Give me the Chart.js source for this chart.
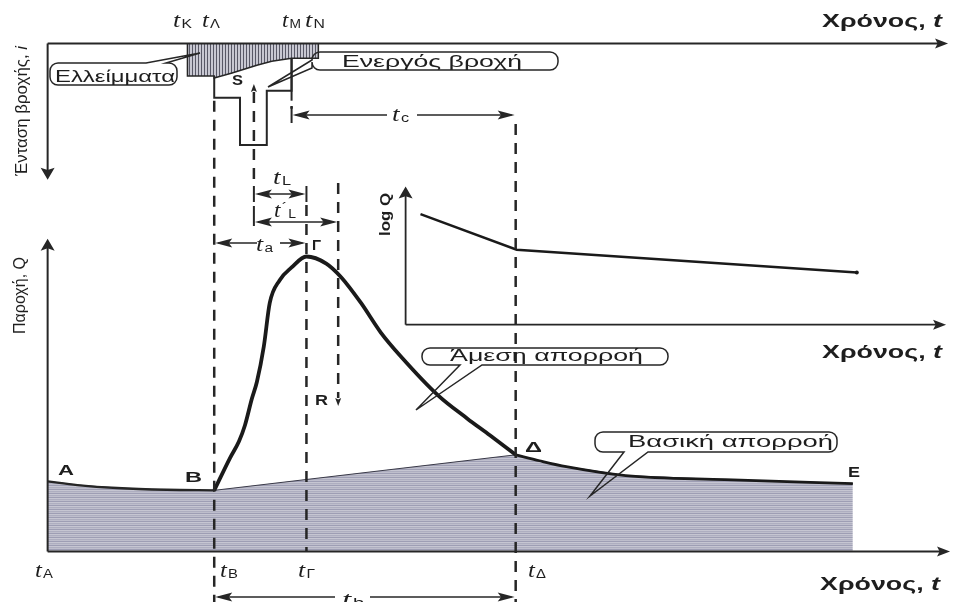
<!DOCTYPE html>
<html><head><meta charset="utf-8">
<script src="https://cdn.jsdelivr.net/npm/chart.js@4"></script>
<style>html,body{margin:0;padding:0;background:#fff}canvas{display:block}</style>
</head><body>
<canvas id="c" width="956" height="602"></canvas>
<script>
// Hydrograph of a storm event: time in hours, discharge Q in m3/s, rain intensity i in mm/h.

// characteristic times
const tA = 0, tK = 7.05, tLambda = 8.4, tB = 8.4, tS = 10.4, tM = 12.3, tG = 13.05,
      tN = 13.65, tR = 14.65, tD = 23.6, tE = 40.6;

// recession before the storm (A -> B)
const preT = [0, 1.5, 3.5, 6, 8.4];
const preQ = [23.7, 22.5, 21.5, 20.9, 20.7];
// storm response (B -> Γ -> Δ)
const eventT = [8.4, 9.2, 9.65, 9.95, 10.3, 10.55, 10.9, 11.2, 11.7, 12.3, 13.05, 14.05, 14.8, 15.8, 16.8, 17.8, 19.7, 21.15, 22.3, 23.6];
const eventQ = [20.7, 31.7, 37.3, 42.7, 51.7, 57.3, 69.3, 84, 91.7, 96, 99.7, 97.3, 92.7, 84, 74, 66, 52.7, 45, 39.3, 32.7];
// recession after the storm (Δ -> E)
const postT = [23.6, 24.8, 26.15, 29.15, 34.15, 40.6];
const postQ = [32.7, 30.7, 28.7, 25.7, 24.3, 23.0];

// semi-log recession (inset)
const logT = [18.8, 23.65, 40.8];
const logQ = [5.6, 3.8, 2.65];

// losses (hatched) under the time axis of the hyetograph
const lossT = [7.05, 7.05, 8.4, 8.4, 9.3, 10.55, 11.3, 12.3, 13.65, 13.65];
const lossI = [0, 6.6, 6.6, 7.0, 6.0, 4.4, 3.6, 3.0, 3.0, 0];
// total rainfall blocks
const rainT = [8.4, 8.4, 9.7, 9.7, 11.05, 11.05, 12.3, 12.3];
const rainI = [6.6, 11, 11, 20.6, 20.6, 9.6, 9.6, 3.0];

const zip = (xs, ys) => xs.map((x, k) => ({ x, y: ys[k] }));
const baseT = preT.concat(postT);
const baseQ = preQ.concat(postQ);

const INK = '#262626';
const SANS = '"Liberation Sans", Arial, sans-serif';
const SERIF = '"Liberation Serif", "Times New Roman", serif';

function makePattern(w, h, paint) {
  const c = document.createElement('canvas');
  c.width = w; c.height = h;
  paint(c.getContext('2d'));
  return document.getElementById('c').getContext('2d').createPattern(c, 'repeat');
}
const basePattern = makePattern(4, 4, g => {
  const rows = ['rgb(190,190,204)', 'rgb(158,158,180)', 'rgb(198,198,210)', 'rgb(174,174,192)'];
  rows.forEach((col, r) => { g.fillStyle = col; g.fillRect(0, r, 4, 1); });
});
const lossPattern = makePattern(3, 3, g => {
  g.fillStyle = 'rgb(200,200,210)'; g.fillRect(0, 0, 3, 3);
  g.fillStyle = 'rgb(88,88,102)'; g.fillRect(0, 0, 1, 3);
});

// text made of runs, stretched horizontally to a given width
function runs(ctx, parts, x, y, width, rot) {
  ctx.save();
  ctx.translate(x, y);
  if (rot) ctx.rotate(rot);
  let nat = 0;
  parts.forEach(p => { ctx.font = p.f; p.w = ctx.measureText(p.t).width; nat += p.w + (p.dx || 0); });
  ctx.scale(width / nat, 1);
  let cx = 0;
  parts.forEach(p => { ctx.font = p.f; cx += (p.dx || 0); ctx.fillText(p.t, cx, p.dy || 0); cx += p.w; });
  ctx.restore();
}
function tLabel(ctx, sub, x0, x1, base, prime) {
  const parts = [{ t: 't', f: 'italic 20px ' + SERIF }];
  if (prime) parts.push({ t: '´', f: '14px ' + SANS, dy: -4, dx: 1 });
  parts.push({ t: sub, f: '12px ' + SANS, dy: 1, dx: 1 });
  runs(ctx, parts, x0, base, x1 - x0);
}

const diagram = {
  id: 'diagram',
  beforeDraw(chart) {
    const ctx = chart.ctx;
    ctx.save(); ctx.fillStyle = '#fff'; ctx.fillRect(0, 0, chart.width, chart.height); ctx.restore();
  },
  afterDatasetsDraw(chart) {
    const ctx = chart.ctx;
    const sx = chart.scales.x, sy = chart.scales.y, sr = chart.scales.yr, si = chart.scales.yi;
    const X = v => sx.getPixelForValue(v), Y = v => sy.getPixelForValue(v);
    const R = v => sr.getPixelForValue(v), I = v => si.getPixelForValue(v);
    ctx.save();
    ctx.strokeStyle = INK; ctx.fillStyle = INK;
    ctx.textBaseline = 'alphabetic'; ctx.textAlign = 'left';

    function line(x1, y1, x2, y2, w) {
      ctx.lineWidth = w || 2; ctx.setLineDash([]);
      ctx.beginPath(); ctx.moveTo(x1, y1); ctx.lineTo(x2, y2); ctx.stroke();
    }
    function head(x, y, dir, len, half) {
      // dir: 'r','l','u','d' -> tip at (x,y)
      ctx.beginPath();
      if (dir === 'r') { ctx.moveTo(x, y); ctx.lineTo(x - len, y - half); ctx.lineTo(x - len * 0.8, y); ctx.lineTo(x - len, y + half); }
      if (dir === 'l') { ctx.moveTo(x, y); ctx.lineTo(x + len, y - half); ctx.lineTo(x + len * 0.8, y); ctx.lineTo(x + len, y + half); }
      if (dir === 'u') { ctx.moveTo(x, y); ctx.lineTo(x - half, y + len); ctx.lineTo(x, y + len * 0.8); ctx.lineTo(x + half, y + len); }
      if (dir === 'd') { ctx.moveTo(x, y); ctx.lineTo(x - half, y - len); ctx.lineTo(x, y - len * 0.8); ctx.lineTo(x + half, y - len); }
      ctx.closePath(); ctx.fill();
    }
    function dash(x, y1, y2) {
      ctx.lineWidth = 2.5; ctx.setLineDash([11, 8]);
      ctx.beginPath(); ctx.moveTo(x, y1); ctx.lineTo(x, y2); ctx.stroke();
      ctx.setLineDash([]);
    }
    function span(x1, x2, y, gap) {
      if (gap) { line(x1 + 4, y, gap[0], y, 1.6); line(gap[1], y, x2 - 4, y, 1.6); }
      else line(x1 + 4, y, x2 - 4, y, 1.6);
      head(x1 + 1, y, 'l', 17, 4.5);
      head(x2 - 1, y, 'r', 17, 4.5);
    }

    // axes of the hyetograph
    line(X(0), R(0), X(45.2), R(0), 2); head(X(45.3) + 2, R(0), 'r', 13, 5);
    line(X(0), R(0), X(0), R(26.5), 2); head(X(0), R(27.6), 'd', 12, 7);
    // axes of the hydrograph
    line(X(0), Y(0), X(45.3), Y(0), 2); head(X(45.4) + 2, Y(0), 'r', 13, 5);
    line(X(0), Y(0), X(0), Y(103), 2); head(X(0), Y(105.7), 'u', 12, 7);
    // axes of the inset
    line(X(18.05), I(0), X(45.1), I(0), 1.8); head(X(45.2) + 2, I(0), 'r', 13, 5);
    line(X(18.05), I(0), X(18.05), I(6.6), 1.8); head(X(18.05), I(7), 'u', 12, 7);

    // guide lines
    dash(X(tB), R(11.6), 602);
    dash(X(tS), 92, 186);
    head(X(tS), 84, 'u', 8, 3);
    dash(X(tG), 205, Y(0));
    dash(X(tR), 183, 398);
    head(X(tR), 406, 'd', 8, 3);
    dash(X(tD), 124, 602);
    line(X(tM), R(3), X(tM), R(11.6), 2);
    dash(X(tM), R(11.6) + 8, 106);

    // time spans
    line(X(tM), 107, X(tM), 123, 2);
    span(X(tM), X(tD), 115, [387, 417]);
    line(X(tS), 186, X(tS), 202, 2); line(X(tG), 186, X(tG), 202, 2);
    span(X(tS), X(tG), 194);
    line(X(tS), 206, X(tS), 226, 2);
    span(X(tS), X(tR), 222);
    span(X(tB), X(tG), 243, [257, 280]);
    span(X(tB), X(tD), 597, [335, 370]);

    // callouts
    function callout(x0, y0, x1, y1, tail) {
      const r = 8;
      ctx.lineWidth = 1.5; ctx.setLineDash([]);
      ctx.beginPath();
      ctx.moveTo(x0 + r, y0);
      if (tail.side === 'top') { ctx.lineTo(tail.a, y0); ctx.lineTo(tail.tx, tail.ty); ctx.lineTo(tail.b, y0); }
      ctx.lineTo(x1 - r, y0); ctx.arcTo(x1, y0, x1, y0 + r, r);
      ctx.lineTo(x1, y1 - r); ctx.arcTo(x1, y1, x1 - r, y1, r);
      if (tail.side === 'bottom') { ctx.lineTo(tail.b, y1); ctx.lineTo(tail.tx, tail.ty); ctx.lineTo(tail.a, y1); }
      ctx.lineTo(x0 + r, y1); ctx.arcTo(x0, y1, x0, y1 - r, r);
      if (tail.side === 'left') { ctx.lineTo(x0, tail.b); ctx.lineTo(tail.tx, tail.ty); ctx.lineTo(x0, tail.a); }
      ctx.lineTo(x0, y0 + r); ctx.arcTo(x0, y0, x0 + r, y0, r);
      ctx.stroke();
    }
    callout(50, 63, 177, 85, { side: 'top', a: 146, b: 166, tx: 200, ty: 53 });
    callout(312, 52, 558, 70, { side: 'left', a: 60, b: 68, tx: 268, ty: 87 });
    callout(422, 348, 668, 365, { side: 'bottom', a: 460, b: 482, tx: 416, ty: 410 });
    callout(595, 432, 837, 452, { side: 'bottom', a: 624, b: 648, tx: 590, ty: 496 });

    ctx.fillStyle = '#1e1e1e';
    const reg = s => s + 'px ' + SANS;
    runs(ctx, [{ t: 'Ελλείμματα', f: reg(16) }], 55, 82, 120);
    runs(ctx, [{ t: 'Ενεργός βροχή', f: reg(17) }], 342, 67, 180);
    runs(ctx, [{ t: 'Άμεση απορροή', f: reg(16) }], 450, 361, 193);
    runs(ctx, [{ t: 'Βασική απορροή', f: reg(16) }], 628, 447, 205);

    // axis titles
    const bold = s => 'bold ' + s + 'px ' + SANS;
    const timeTitle = [{ t: 'Χρόνος, ', f: bold(18) }, { t: 't', f: 'bold italic 18px ' + SANS }];
    runs(ctx, timeTitle, 822, 27, 120);
    runs(ctx, timeTitle, 822, 358, 120);
    runs(ctx, timeTitle, 820, 590, 120);
    runs(ctx, [{ t: 'Ένταση βροχής, ', f: reg(17) }, { t: 'i', f: 'italic 17px ' + SANS }], 27, 176, 130, -Math.PI / 2);
    runs(ctx, [{ t: 'Παροχή, Q', f: reg(16) }], 25, 334, 77, -Math.PI / 2);
    runs(ctx, [{ t: 'log Q', f: bold(15) }], 390, 236, 43, -Math.PI / 2);

    // point letters
    [['A', 58, 74, 475], ['B', 185, 202, 482], ['Γ', 312, 321, 250], ['Δ', 525, 542, 452],
     ['E', 848, 860, 477], ['S', 232, 243, 85], ['R', 315, 328, 405]]
      .forEach(([s, a, b, base]) => runs(ctx, [{ t: s, f: bold(15) }], a, base, b - a));

    // time labels
    tLabel(ctx, 'K', 173, 192, 27);
    tLabel(ctx, 'Λ', 202, 220, 27);
    tLabel(ctx, 'M', 282, 301, 27);
    tLabel(ctx, 'N', 305, 325, 27);
    tLabel(ctx, 'A', 35, 53, 577);
    tLabel(ctx, 'B', 220, 238, 577);
    tLabel(ctx, 'Γ', 298, 315, 577);
    tLabel(ctx, 'Δ', 528, 546, 577);
    tLabel(ctx, 'c', 392, 409, 121);
    tLabel(ctx, 'a', 256, 273, 251);
    tLabel(ctx, 'L', 273, 291, 184);
    tLabel(ctx, 'L', 274, 296, 217, true);
    tLabel(ctx, 'b', 342, 364, 606);
    ctx.restore();
  }
};

new Chart(document.getElementById('c'), {
  type: 'line',
  data: {
    datasets: [
      { data: zip(preT, preQ), borderColor: INK, borderWidth: 2.3, pointRadius: 0, cubicInterpolationMode: 'monotone', fill: false, order: 0 },
      { data: zip(eventT, eventQ), borderColor: '#1a1a1a', borderWidth: 3.8, pointRadius: 0, cubicInterpolationMode: 'monotone', fill: false, order: 0 },
      { data: zip(postT, postQ), borderColor: '#1a1a1a', borderWidth: 2.8, pointRadius: 0, cubicInterpolationMode: 'monotone', fill: false, order: 0 },
      { data: zip(baseT, baseQ), borderColor: '#3a3a48', borderWidth: 1, backgroundColor: basePattern, pointRadius: 0, tension: 0, fill: 'origin', order: 5 },
      { data: zip(lossT, lossI), yAxisID: 'yr', borderColor: INK, borderWidth: 1.5, backgroundColor: lossPattern, pointRadius: 0, tension: 0, fill: { value: 0 }, order: 5 },
      { data: zip(rainT, rainI), yAxisID: 'yr', borderColor: INK, borderWidth: 2, pointRadius: 0, tension: 0, fill: false, order: 1 },
      { data: zip(logT, logQ), yAxisID: 'yi', borderColor: '#1a1a1a', borderWidth: 2.5, pointRadius: [0, 0, 2], pointBackgroundColor: '#1a1a1a', pointBorderWidth: 0, tension: 0, fill: false, order: 1 }
    ]
  },
  options: {
    responsive: false,
    animation: false,
    devicePixelRatio: 1,
    layout: { padding: 0 },
    plugins: { legend: { display: false }, tooltip: { enabled: false } },
    scales: {
      x: { type: 'linear', min: -2.2, max: 45.6, display: false },
      y: { type: 'linear', min: -47 / 3, max: 555 / 3, display: false },
      yr: { type: 'linear', min: -8, max: 112.4, reverse: true, display: false },
      yi: { type: 'linear', min: -13.85, max: 16.25, display: false }
    }
  },
  plugins: [diagram]
});
</script>
</body></html>
